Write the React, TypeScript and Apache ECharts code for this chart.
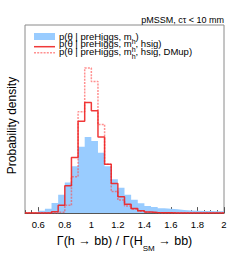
import React, { useEffect, useRef } from 'react';
import * as echarts from 'echarts';

// Histogram bins: lower edges, width 0.05, last upper edge 2.0
const binLow = [
  0.5, 0.55, 0.6, 0.65, 0.7, 0.75, 0.8, 0.85, 0.9, 0.95,
  1.0, 1.05, 1.1, 1.15, 1.2, 1.25, 1.3, 1.35, 1.4, 1.45,
  1.5, 1.55, 1.6, 1.65, 1.7, 1.75, 1.8, 1.85, 1.9, 1.95,
];
const binUpperEdge = 2.0;

// p(theta | preHiggs, m_h)  (blue filled)
const pPreHiggsMh = [
  0.0, 0.02, 0.08, 0.15, 0.35, 0.64, 1.06, 1.62, 2.3, 2.64,
  2.5, 2.09, 1.62, 1.17, 0.88, 0.64, 0.46, 0.34, 0.25, 0.21,
  0.17, 0.15, 0.13, 0.11, 0.09, 0.08, 0.07, 0.07, 0.06, 0.06,
];
// p(theta | preHiggs, m_h, hsig)  (red solid)
const pPreHiggsMhHsig = [
  0.0, 0.0, 0.0, 0.0, 0.05, 0.27, 0.95, 1.93, 3.18, 3.83,
  3.55, 2.64, 1.69, 1.03, 0.57, 0.31, 0.16, 0.08, 0.04, 0.02,
  0.01, 0.01, 0.0, 0.0, 0.0, 0.0, 0.0, 0.0, 0.0, 0.0,
];
// p(theta | preHiggs, m_h, hsig, DMup)  (red dotted)
const pPreHiggsMhHsigDMup = [
  0.0, 0.0, 0.0, 0.0, 0.0, 0.03, 0.27, 1.26, 3.51, 5.03,
  4.56, 3.07, 1.69, 0.75, 0.45, 0.25, 0.13, 0.06, 0.03, 0.01,
  0.0, 0.0, 0.0, 0.0, 0.0, 0.0, 0.0, 0.0, 0.0, 0.0,
];

const xTickLabels = [0.6, 0.8, 1.0, 1.2, 1.4, 1.6, 1.8, 2.0];
const xMin = 0.5;
const xMax = 2.0;
const yMax = 6.52;

const legendEntries = [
  { main: 'p(θ | preHiggs, m', sub: 'h', tail: ')' },
  { main: 'p(θ | preHiggs, m', sub: 'h', tail: ', hsig)' },
  { main: 'p(θ | preHiggs, m', sub: 'h', tail: ', hsig, DMup)' },
];

const FONT = "'Liberation Sans', Arial, Helvetica, sans-serif";
const BLUE = '#99ccff';
const RED = 'rgba(238, 30, 30, 0.88)';
const RED_DOT = 'rgba(255, 70, 70, 0.6)';

function stepData(vals: number[]) {
  const pts: number[][] = binLow.map((x, i) => [x, vals[i]]);
  pts.push([binUpperEdge, vals[vals.length - 1]]);
  return pts;
}

const subRich = {
  t: { fontSize: 9.5, lineHeight: 10, verticalAlign: 'top', fontFamily: FONT, color: '#000' },
  s: { fontSize: 7, lineHeight: 14, verticalAlign: 'bottom', fontFamily: FONT, color: '#000' },
};

export default function App() {
  const ref = useRef<HTMLDivElement>(null);
  useEffect(() => {
    if (!ref.current) return;
    const chart = echarts.init(ref.current, undefined, { renderer: 'svg' });
    const legendTops = [31, 38.5, 46];
    const option: any = {
      animation: false,
      textStyle: { fontFamily: FONT },
      title: {
        text: 'pMSSM, cτ < 10 mm',
        right: 25,
        top: 15,
        padding: 0,
        textStyle: { fontSize: 9, fontWeight: 'normal', color: '#000', fontFamily: FONT },
      },
      grid: {
        left: 25,
        right: 25,
        top: 25,
        bottom: 39,
        show: true,
        borderColor: '#8a8a8a',
        borderWidth: 1,
        backgroundColor: 'transparent',
      },
      xAxis: [
        {
          type: 'value',
          min: xMin,
          max: xMax,
          position: 'bottom',
          axisLine: { show: true, onZero: false, lineStyle: { color: '#555', width: 1 } },
          axisTick: { show: true, inside: true, length: 6, customValues: xTickLabels, lineStyle: { color: '#555' } },
          axisLabel: {
            show: true,
            customValues: xTickLabels,
            formatter: (v: number) => String(v),
            fontSize: 9.5,
            color: '#000',
            margin: 6,
            fontFamily: FONT,
          },
          splitLine: { show: false },
          name: '{t|Γ(h → bb) / Γ(H}{s|SM}{t| → bb)}',
          nameLocation: 'middle',
          nameGap: 18,
          nameTextStyle: {
            fontFamily: FONT,
            color: '#000',
            rich: {
              t: { fontSize: 12.5, lineHeight: 13, verticalAlign: 'top', fontFamily: FONT, color: '#000' },
              s: { fontSize: 8, lineHeight: 18, verticalAlign: 'bottom', fontFamily: FONT, color: '#000' },
            },
          },
        },
        {
          type: 'value',
          min: xMin,
          max: xMax,
          interval: 0.05,
          position: 'bottom',
          axisLine: { show: false },
          axisTick: { show: true, inside: true, length: 3, lineStyle: { color: '#555' } },
          axisLabel: { show: false },
          splitLine: { show: false },
        },
      ],
      yAxis: {
        type: 'value',
        min: 0,
        max: yMax,
        axisLine: { show: false },
        axisTick: { show: false },
        axisLabel: { show: false },
        splitLine: { show: false },
      },
      series: [
        {
          type: 'line',
          step: 'end',
          data: stepData(pPreHiggsMh),
          symbol: 'none',
          lineStyle: { width: 0, color: BLUE },
          areaStyle: { color: BLUE, opacity: 1 },
          z: 1,
        },
        {
          type: 'line',
          step: 'end',
          data: stepData(pPreHiggsMhHsigDMup),
          symbol: 'none',
          lineStyle: { width: 1.5, color: RED_DOT, type: [2, 1.2] },
          z: 2,
        },
        {
          type: 'line',
          step: 'end',
          data: stepData(pPreHiggsMhHsig),
          symbol: 'none',
          lineStyle: { width: 1.5, color: RED },
          z: 3,
        },
      ],
      graphic: [
        {
          type: 'text',
          x: 12,
          y: 125.5,
          rotation: Math.PI / 2,
          z: 10,
          style: {
            text: 'Probability density',
            fontSize: 12,
            fontFamily: FONT,
            fill: '#000',
            align: 'center',
            verticalAlign: 'middle',
          },
        },
        { type: 'rect', shape: { x: 34, y: 33, width: 21, height: 7 }, style: { fill: BLUE }, z: 10 },
        { type: 'line', shape: { x1: 34, y1: 46.7, x2: 55, y2: 46.7 }, style: { stroke: RED, lineWidth: 1.5 }, z: 10 },
        {
          type: 'line',
          shape: { x1: 34, y1: 52.7, x2: 55, y2: 52.7 },
          style: { stroke: RED_DOT, lineWidth: 1.5, lineDash: [2, 1.2] },
          z: 10,
        },
        ...legendEntries.map((e, i) => ({
          type: 'text',
          x: 59,
          y: legendTops[i],
          z: 10,
          style: {
            text: `{t|${e.main}}{s|${e.sub}}{t|${e.tail}}`,
            rich: subRich,
            verticalAlign: 'top',
            align: 'left',
            fontFamily: FONT,
          },
        })),
      ],
    };
    chart.setOption(option);
    return () => chart.dispose();
  }, []);
  return <div ref={ref} style={{ width: 249, height: 257, position: 'absolute', left: 0, top: 0 }} />;
}
